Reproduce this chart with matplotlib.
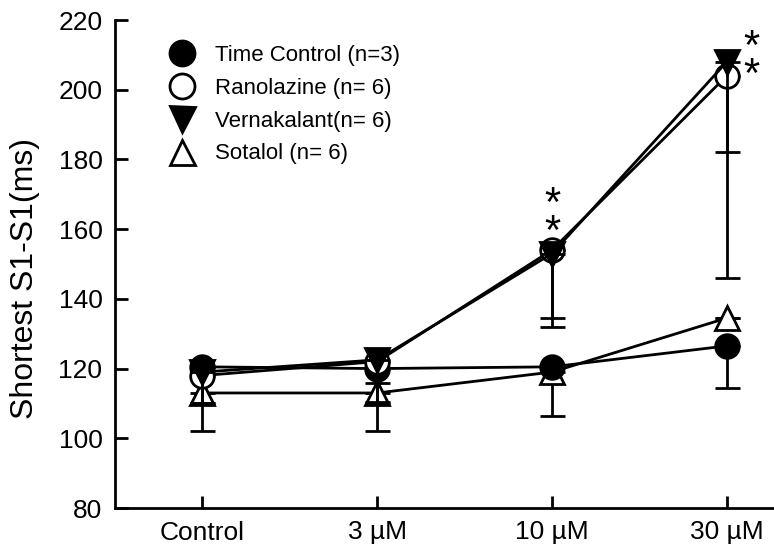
import matplotlib
matplotlib.use("Agg")
import matplotlib.pyplot as plt
from matplotlib.lines import Line2D

plt.rcParams['font.family'] = ['Liberation Sans', 'DejaVu Sans']

# Data
doses = ['Control', '3 µM', '10 µM', '30 µM']

time_ctrl = [120.5, 120, 120.5, 126.5]
time_ctrl_err = [0, 4, 0, 12]

ranolazine = [118, 122, 154, 204]
ranolazine_err = [8, 12, 22, 58]

vernakalant = [119, 122.5, 153, 208]
vernakalant_err = [9, 12, 18.5, 26]

sotalol = [113, 113, 119, 134.5]
sotalol_err = [11, 11, 12.5, 0]

labels = ['Time Control (n=3)', 'Ranolazine (n= 6)', 'Vernakalant(n= 6)', 'Sotalol (n= 6)']

# significance marks (two stacked stars): dose index, y value
star_x = [2, 3]
star_y = [162.9, 207.9]

fig = plt.figure(figsize=(7.74, 5.57), dpi=100)
ax = fig.add_axes([115 / 774, 49 / 557, 659 / 774, 488 / 557])

x = list(range(len(doses)))
series = [
    (sotalol, sotalol_err, '^', 'white'),
    (time_ctrl, time_ctrl_err, 'o', 'black'),
    (ranolazine, ranolazine_err, 'o', 'white'),
    (vernakalant, vernakalant_err, 'v', 'black'),
]
for i, (y, err, m, fc) in enumerate(series):
    ax.errorbar(x, y, yerr=[err, [0] * len(err)], color='black', lw=2,
                elinewidth=2, capsize=9, capthick=2.5, marker=m, ms=17,
                mfc=fc, mec='black', mew=2, zorder=3 + i)

for sx, sy in zip(star_x, star_y):
    ax.text(sx + (0.14 if sx == 3 else 0), sy, '*\n*', fontsize=30,
            ha='center', va='center', linespacing=0.62)

ax.set_xlim(-0.5, 3.27)
ax.set_ylim(80, 220)
ax.set_yticks(range(80, 221, 20))
ax.set_xticks(x)
ax.set_xticklabels(doses)
ax.set_ylabel('Shortest S1-S1(ms)', fontsize=23)
ax.yaxis.set_label_coords(-0.114, 0.47)

for s in ['top', 'right']:
    ax.spines[s].set_visible(False)
for s in ['left', 'bottom']:
    ax.spines[s].set_linewidth(2)
ax.tick_params(direction='in', length=9, width=2, labelsize=19, pad=9)

handles = [
    Line2D([], [], ls='none', marker='o', ms=18, mfc='black', mec='black', mew=2),
    Line2D([], [], ls='none', marker='o', ms=18, mfc='white', mec='black', mew=2),
    Line2D([], [], ls='none', marker='v', ms=18, mfc='black', mec='black', mew=2),
    Line2D([], [], ls='none', marker='^', ms=18, mfc='white', mec='black', mew=2),
]
ax.legend(handles, labels, loc='upper left', bbox_to_anchor=(0.054, 0.967),
          frameon=False, fontsize=16, handletextpad=0.5, labelspacing=0.53,
          borderaxespad=0)

fig.savefig('out.png', dpi=100)
